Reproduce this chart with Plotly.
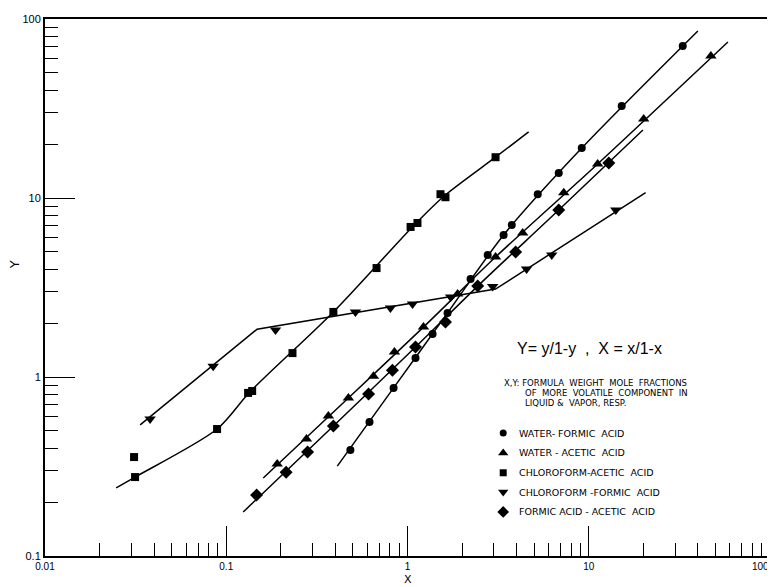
import plotly.graph_objects as go

# ---------------- data ----------------
# Water - formic acid (circles)
wf_x = [0.484, 0.617, 0.838, 1.107, 1.375, 1.663, 2.228, 2.77, 3.39, 3.76, 5.23, 6.83, 9.15, 15.2, 33.0]
wf_y = [0.391, 0.561, 0.869, 1.277, 1.738, 2.28, 3.53, 4.81, 6.21, 7.07, 10.5, 13.8, 19.0, 32.7, 70.7]
wf_fit_x = [0.41, 0.838, 1.663, 3.39, 9.15, 40.0]
wf_fit_y = [0.318, 0.869, 2.28, 6.21, 19.0, 85.7]

# Water - acetic acid (triangles up)
wa_x = [0.191, 0.277, 0.366, 0.472, 0.649, 0.847, 1.225, 1.89, 3.06, 4.32, 7.28, 11.2, 20.1, 47.2]
wa_y = [0.327, 0.451, 0.605, 0.763, 1.01, 1.38, 1.90, 2.91, 4.68, 6.37, 10.7, 15.5, 27.6, 62.1]
wa_fit_x = [0.16, 0.472, 1.225, 3.06, 11.2, 58.6]
wa_fit_y = [0.273, 0.763, 1.90, 4.68, 15.5, 74.4]

# Chloroform - acetic acid (squares)
ca_x = [0.031, 0.0314, 0.089, 0.132, 0.139, 0.232, 0.39, 0.675, 1.04, 1.135, 1.52, 1.62, 3.06]
ca_y = [0.357, 0.276, 0.512, 0.815, 0.835, 1.36, 2.31, 4.06, 6.89, 7.25, 10.5, 10.1, 16.9]
ca_fit_x = [0.0247, 0.0314, 0.089, 0.135, 0.39, 1.09, 1.6, 3.06, 4.66]
ca_fit_y = [0.240, 0.276, 0.512, 0.825, 2.31, 7.07, 10.3, 16.9, 23.4]

# Chloroform - formic acid (triangles down)
cf_x = [0.038, 0.0847, 0.187, 0.516, 0.805, 1.066, 1.73, 2.95, 4.54, 6.25, 14.1]
cf_y = [0.582, 1.15, 1.83, 2.31, 2.43, 2.56, 2.80, 3.2, 4.01, 4.81, 8.57]
cf_fit_x = [0.0335, 0.148, 3.06, 20.6]
cf_fit_y = [0.54, 1.85, 3.1, 10.7]

# Formic acid - acetic acid (diamonds)
fa_x = [0.147, 0.214, 0.281, 0.39, 0.61, 0.826, 1.107, 1.62, 2.44, 3.95, 6.83, 12.9]
fa_y = [0.219, 0.294, 0.381, 0.532, 0.804, 1.09, 1.47, 2.03, 3.22, 4.99, 8.57, 15.7]
fa_fit_x = [0.124, 0.39, 1.107, 2.44, 6.83, 19.9]
fa_fit_y = [0.176, 0.532, 1.47, 3.22, 8.57, 24.0]

series_names = ["WATER- FORMIC  ACID", "WATER - ACETIC  ACID", "CHLOROFORM-ACETIC  ACID",
                "CHLOROFORM -FORMIC  ACID", "FORMIC ACID - ACETIC  ACID"]
symbols = ["circle", "triangle-up", "square", "triangle-down", "diamond"]
msizes = [8, 10, 8, 10, 10]

x_tickvals = [0.01, 0.1, 1, 10, 100]
x_ticktext = ["0.01", "0.1", "1", "10", ""]
y_tickvals = [0.1, 1, 10, 100]
y_ticktext = ["0.1", "1", "10", "100"]

# ---------------- figure ----------------
fig = go.Figure()
pts = [(wf_x, wf_y), (wa_x, wa_y), (ca_x, ca_y), (cf_x, cf_y), (fa_x, fa_y)]
fits = [(wf_fit_x, wf_fit_y, "spline"), (wa_fit_x, wa_fit_y, "spline"), (ca_fit_x, ca_fit_y, "spline"),
        (cf_fit_x, cf_fit_y, "linear"), (fa_fit_x, fa_fit_y, "spline")]

for (fx, fy, shp) in fits:
    fig.add_trace(go.Scatter(x=fx, y=fy, mode="lines",
                             line=dict(color="black", width=1.5, shape=shp, smoothing=0.8),
                             showlegend=False, hoverinfo="skip"))
for (px, py), sym, ms in zip(pts, symbols, msizes):
    fig.add_trace(go.Scatter(x=px, y=py, mode="markers",
                             marker=dict(symbol=sym, size=ms, color="black"),
                             showlegend=False))

# manual legend on an overlay axis (0..1 units)
leg_x = 0.632
leg_rows = [0.229, 0.192, 0.155, 0.119, 0.082]
for sym, ms, ry in zip(symbols, msizes, leg_rows):
    fig.add_trace(go.Scatter(x=[leg_x], y=[ry], mode="markers", xaxis="x2", yaxis="y2",
                             marker=dict(symbol=sym, size=ms - 1, color="black"),
                             showlegend=False, hoverinfo="skip"))

font_main = "DejaVu Sans"
annotations = []
for name, ry in zip(series_names, leg_rows):
    annotations.append(dict(x=0.651, y=ry, xref="paper", yref="paper", text=name, showarrow=False,
                            xanchor="left", yanchor="middle",
                            font=dict(family=font_main, size=9.5, color="black")))
annotations += [
    dict(x=0.648, y=0.386, xref="paper", yref="paper", text="Y= y/1-y  ,  X = x/1-x",
         showarrow=False, xanchor="left", yanchor="middle",
         font=dict(family="Liberation Sans", size=16, color="black")),
    dict(x=0.630, y=0.322, xref="paper", yref="paper", text="X,Y: FORMULA  WEIGHT  MOLE  FRACTIONS",
         showarrow=False, xanchor="left", yanchor="middle",
         font=dict(family=font_main, size=8.5, color="black")),
    dict(x=0.659, y=0.304, xref="paper", yref="paper", text="OF  MORE  VOLATILE  COMPONENT  IN",
         showarrow=False, xanchor="left", yanchor="middle",
         font=dict(family=font_main, size=8.5, color="black")),
    dict(x=0.659, y=0.285, xref="paper", yref="paper", text="LIQUID &  VAPOR, RESP.",
         showarrow=False, xanchor="left", yanchor="middle",
         font=dict(family=font_main, size=8.5, color="black")),
    dict(x=0.5, y=-0.0438, xref="paper", yref="paper", text="X", showarrow=False,
         xanchor="center", yanchor="middle", borderpad=0,
         font=dict(family=font_main, size=11, color="black")),
    dict(x=-0.041, y=0.542, xref="paper", yref="paper", text="Y", showarrow=False, textangle=-90,
         xanchor="center", yanchor="middle",
         font=dict(family=font_main, size=13, color="black")),
    dict(x=0.987, y=-0.006, xref="paper", yref="paper", text="100", showarrow=False,
         xanchor="center", yanchor="top",
         font=dict(family="Liberation Sans", size=10, color="black")),
]

axis_common = dict(
    type="log", showgrid=False, zeroline=False,
    showline=True, linecolor="black", linewidth=2,
    ticks="inside", ticklen=30, tickwidth=1.2, tickcolor="black",
    tickmode="array",
    minor=dict(ticks="inside", ticklen=13, tickwidth=1.2, tickcolor="black", dtick="D1"),
    automargin=False,
)

fig.update_layout(
    width=775, height=587,
    margin=dict(l=37, r=13, t=11, b=39),
    paper_bgcolor="white", plot_bgcolor="white",
    xaxis=dict(range=[-2, 2], mirror=True, tickvals=x_tickvals, ticktext=x_ticktext,
               tickfont=dict(family="Liberation Sans", size=10, color="black"), **axis_common),
    yaxis=dict(range=[-1, 2], tickvals=y_tickvals, ticktext=y_ticktext,
               tickfont=dict(family="Liberation Sans", size=11, color="black"), **axis_common),
    xaxis2=dict(range=[0, 1], overlaying="x", visible=False, anchor="y2"),
    yaxis2=dict(range=[0, 1], overlaying="y", visible=False, anchor="x2"),
    annotations=annotations,
    shapes=[dict(type="line", xref="paper", yref="paper", x0=1, x1=1, y0=0, y1=1,
                 line=dict(color="black", width=1))],
    showlegend=False,
)

fig.write_html("out.html")
